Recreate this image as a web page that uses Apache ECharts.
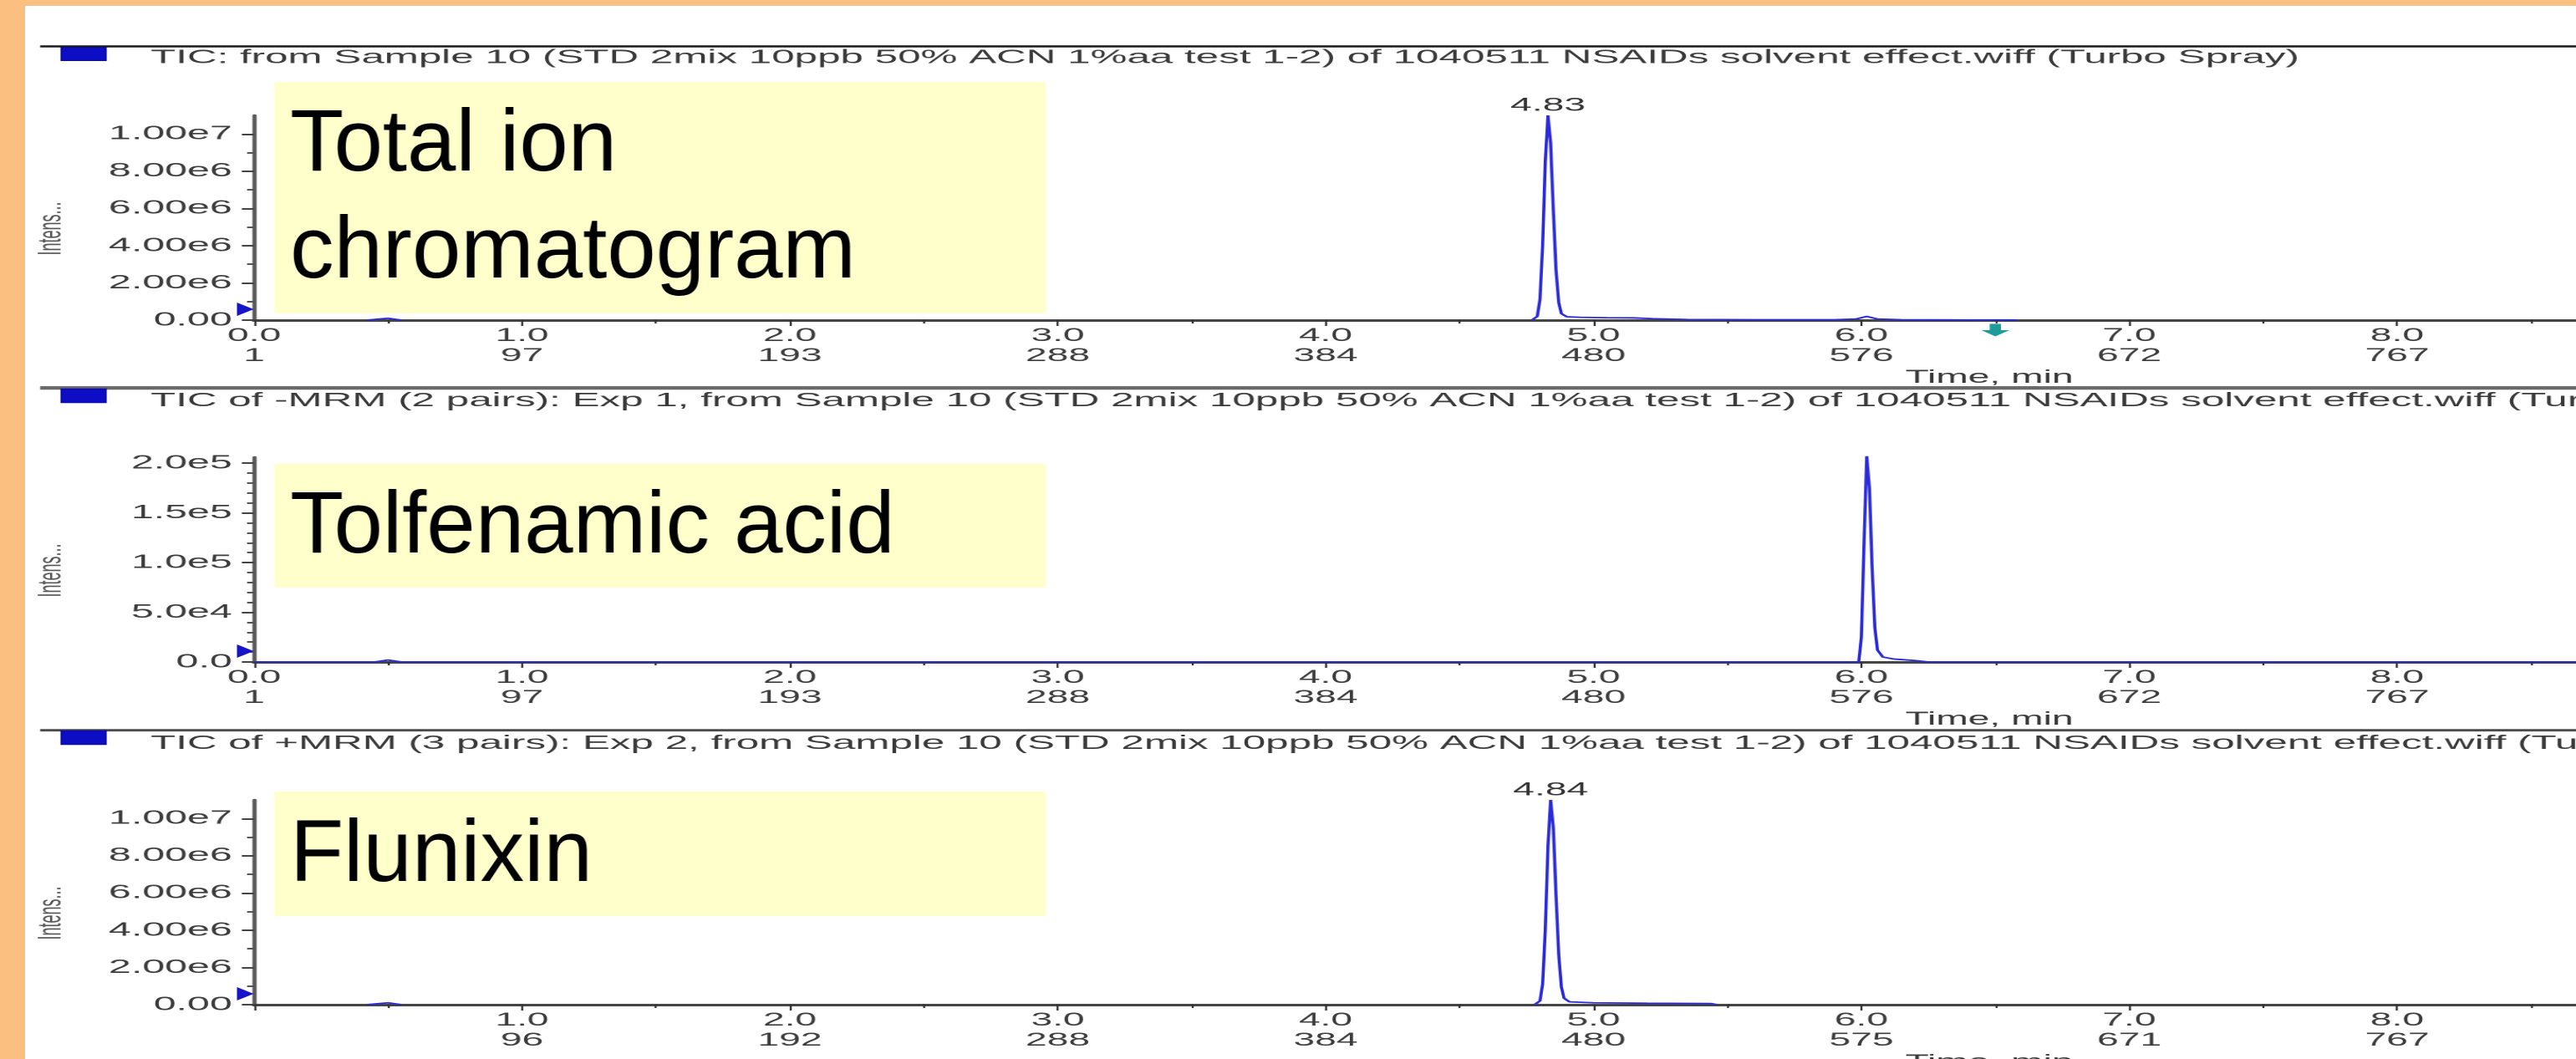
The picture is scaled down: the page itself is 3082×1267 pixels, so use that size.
<!DOCTYPE html>
<html>
<head>
<meta charset="utf-8">
<script src="https://cdn.jsdelivr.net/npm/echarts@6/dist/echarts.min.js"></script>
<style>
html, body { margin: 0; padding: 0; width: 3082px; height: 1267px; overflow: hidden; background: #FBBF80; }
#paper { position: absolute; left: 30px; top: 7px; right: 0; bottom: 0; background: #ffffff; }
#chart { position: absolute; left: 0; top: 0; width: 1468px; height: 1267px; transform: scaleX(2.1); transform-origin: 0 0; }
</style>
</head>
<body>
<div id="paper"></div>
<div id="chart"></div>
<script>
// ---------------- data ----------------
const panelTitles = [
  'TIC: from Sample 10 (STD 2mix 10ppb 50% ACN 1%aa test 1-2) of 1040511 NSAIDs solvent effect.wiff (Turbo Spray)',
  'TIC of -MRM (2 pairs): Exp 1, from Sample 10 (STD 2mix 10ppb 50% ACN 1%aa test 1-2) of 1040511 NSAIDs solvent effect.wiff (Turbo Spray)',
  'TIC of +MRM (3 pairs): Exp 2, from Sample 10 (STD 2mix 10ppb 50% ACN 1%aa test 1-2) of 1040511 NSAIDs solvent effect.wiff (Turbo Spray)'
];
const compoundNames = ['Total ion\nchromatogram', 'Tolfenamic acid', 'Flunixin'];

// Total ion chromatogram (time, min / intensity, cps); null = no trace drawn
const ticTime  = [0.42, 0.50, 0.55, 0.56, 4.77, 4.79, 4.80, 4.81, 4.82, 4.83, 4.84, 4.85, 4.86, 4.87, 4.88, 4.90, 4.95, 5.05, 5.15, 5.22, 5.35, 5.60, 5.90, 5.98, 6.02, 6.06, 6.15, 6.40, 6.58];
const ticValue = [0, 1.0e5, 0, null, 0, 2.0e5, 1.1e6, 4.0e6, 8.5e6, 1.10e7, 9.5e6, 5.9e6, 2.7e6, 9.5e5, 3.5e5, 1.8e5, 1.5e5, 1.3e5, 1.2e5, 8.0e4, 3.0e4, 2.0e4, 2.0e4, 6.0e4, 2.0e5, 6.0e4, 2.0e4, 1.0e4, 1.0e4];

// Tolfenamic acid (-MRM)
const tolTime  = [0, 0.45, 0.50, 0.55, 5.99, 6.00, 6.01, 6.02, 6.03, 6.04, 6.05, 6.06, 6.08, 6.12, 6.20, 6.25, 9.0];
const tolValue = [0, 0, 2.0e3, 0, 0, 2.5e4, 1.2e5, 2.07e5, 1.75e5, 9.5e4, 3.5e4, 1.2e4, 5.0e3, 3.0e3, 1.5e3, 0, 0];

// Flunixin (+MRM)
const fluTime  = [0.42, 0.50, 0.55, 0.56, 4.78, 4.80, 4.81, 4.82, 4.83, 4.84, 4.85, 4.86, 4.87, 4.88, 4.89, 4.91, 5.00, 5.20, 5.44, 5.46];
const fluValue = [0, 1.0e5, 0, null, 0, 2.0e5, 1.1e6, 4.0e6, 8.5e6, 1.10e7, 9.5e6, 5.9e6, 2.7e6, 9.5e5, 3.5e5, 1.5e5, 1.0e5, 8.0e4, 6.0e4, 0];

// axis ticks
const xMax = 9;
const yTicksTIC = [0, 2e6, 4e6, 6e6, 8e6, 1e7];
const yTicksTol = [0, 5e4, 1e5, 1.5e5, 2e5];
const yTicksFlu = [0, 2e6, 4e6, 6e6, 8e6, 1e7];
const yMaxes    = [1.1e7, 2.06e5, 1.1e7];
// scan numbers printed under each minute tick (index = minute)
const scanTIC = ['1', '97', '193', '288', '384', '480', '576', '672', '767'];
const scanTol = ['1', '97', '193', '288', '384', '480', '576', '672', '767'];
const scanFlu = [null, '96', '192', '288', '384', '480', '575', '671', '767'];
const cursorTime = 6.5;

// ---------------- layout ----------------
const FONT = '"Liberation Sans", Arial, Helvetica, sans-serif';
const S = 2.1;                 // horizontal stretch of the instrument screenshot
const CW = 1468;               // chart width before stretching
const fx = x => x / S;         // page px -> chart px (layout only)
const gridLeft = fx(304);
const pxPerMin = fx(320.5);
const gridRight = CW - gridLeft - xMax * pxPerMin;
const gridTops = [138, 547, 957];
const gridH = 245;

const toPairs = (ts, vs) => ts.map((t, k) => [t, vs[k] === null ? '-' : vs[k]]);
function apex(ts, vs) {
  let k = 0;
  vs.forEach((v, i) => { if (v !== null && v > vs[k]) k = i; });
  return [ts[k], vs[k]];
}
const expFmt = (digits, ticks) => v => {
  if (!ticks.some(t => Math.abs(t - v) < 1e-6 * (Math.abs(t) + 1))) return '';
  return v === 0 ? (0).toFixed(digits) : v.toExponential(digits).replace('+', '');
};

function xAxisCfg(i, scans) {
  const nameCenter = fx(2380);
  const mid = gridLeft + (xMax * pxPerMin) / 2;
  return {
    type: 'value', gridIndex: i, min: 0, max: xMax, interval: 1,
    name: 'Time, min', nameLocation: 'middle', nameGap: 58,
    nameTextStyle: { fontSize: 22, color: '#383838', fontFamily: FONT, padding: [0, 0, 0, 2 * (nameCenter - mid)] },
    axisLine: { show: true, lineStyle: { color: '#454545', width: 3 } },
    axisTick: { show: true, length: 7, lineStyle: { color: '#333', width: 1.2 } },
    minorTick: { show: true, splitNumber: 2, length: 4, lineStyle: { color: '#333', width: 1.2 } },
    axisLabel: {
      margin: 7, fontSize: 22, lineHeight: 24, color: '#3c3c3c', fontFamily: FONT,
      formatter: v => {
        const s = scans[Math.round(v)];
        if (s == null) return '';
        return v.toFixed(1) + '\n' + s;
      }
    },
    splitLine: { show: false }
  };
}
function yAxisCfg(i, ticks, max, digits, minorSplit) {
  return {
    type: 'value', gridIndex: i, min: 0, max: max, interval: ticks[1] - ticks[0],
    name: 'Intens...', nameLocation: 'middle', nameRotate: 90, nameGap: 106,
    nameTextStyle: { fontSize: 18, color: '#555', fontFamily: FONT, padding: [0, 26, 0, 0] },
    axisLine: { show: true, lineStyle: { color: '#5a5a5a', width: 2.4 } },
    axisTick: { show: true, length: 7, customValues: ticks, lineStyle: { color: '#444', width: 2 } },
    minorTick: { show: true, splitNumber: minorSplit, length: 4, lineStyle: { color: '#555', width: 2 } },
    axisLabel: { customValues: ticks, margin: 12.5, fontSize: 23, color: '#3c3c3c', fontFamily: FONT, formatter: expFmt(digits, ticks) },
    splitLine: { show: false }
  };
}

const LINE = '#2a2ad8';
function seriesCfg(i, ts, vs, extraMarks) {
  const pk = apex(ts, vs);
  return {
    type: 'line', xAxisIndex: i, yAxisIndex: i, data: toPairs(ts, vs),
    showSymbol: false, connectNulls: false, clip: false,
    lineStyle: { color: LINE, width: 1.8 }, itemStyle: { color: LINE },
    z: 3,
    markPoint: {
      silent: true,
      data: [
        { coord: pk, symbol: 'circle', symbolSize: 1, itemStyle: { color: 'rgba(0,0,0,0)' },
          label: { show: true, position: 'top', distance: 0, formatter: () => pk[0].toFixed(2),
                   fontSize: 22, color: '#333', fontFamily: FONT } },
        { coord: [0, 0], symbol: 'triangle', symbolSize: [16, 9.5], symbolRotate: -90, symbolOffset: [-5, -13],
          itemStyle: { color: '#1414c8' }, label: { show: false } }
      ].concat(extraMarks || [])
    }
  };
}

const cursorMark = {
  coord: [cursorTime, 0], symbol: 'path://M3,0 L7,0 L7,5 L10,5 L5,10 L0,5 L3,5 Z',
  symbolSize: [16, 15], symbolOffset: [0, 12], itemStyle: { color: '#1e9c9c' }, label: { show: false }
};

const titleTops = [57, 467.5, 877.5];
const graphic = [];
// pane frame lines
[[54.3, 2.4, '#1a1a1a'], [462, 4.2, '#6a6a6a'], [872.3, 2.8, '#4a4a4a']].forEach(([y, h, c]) => {
  graphic.push({ type: 'rect', shape: { x: fx(48), y: y, width: CW, height: h }, style: { fill: c }, z: 1 });
});
// blue legend keys
[[56.7, 16], [465, 17], [874, 17]].forEach(([y, h]) => {
  graphic.push({ type: 'rect', shape: { x: fx(73), y: y, width: fx(54), height: h }, style: { fill: '#0d0dc4', stroke: '#05058a', lineWidth: 0.6 }, z: 1 });
});
// yellow compound boxes + labels
const boxes = [[98, 277], [555, 148], [947, 149]];
boxes.forEach(([y, h]) => {
  graphic.push({ type: 'rect', shape: { x: fx(328), y: y, width: fx(923), height: h }, style: { fill: '#FFFFCC' }, z: 1 });
});
const BIG = 105;
graphic.push({ type: 'text', x: fx(347), y: 111, scaleX: 1 / S, z: 2,
  style: { text: compoundNames[0], fontSize: BIG, lineHeight: 128, fontFamily: FONT, fill: '#000', align: 'left', verticalAlign: 'top' } });
graphic.push({ type: 'text', x: fx(347), y: 632, scaleX: 1 / S, z: 2,
  style: { text: compoundNames[1], fontSize: BIG, fontFamily: FONT, fill: '#000', align: 'left', verticalAlign: 'middle' } });
graphic.push({ type: 'text', x: fx(347), y: 1025, scaleX: 1 / S, z: 2,
  style: { text: compoundNames[2], fontSize: BIG, fontFamily: FONT, fill: '#000', align: 'left', verticalAlign: 'middle' } });

const option = {
  animation: false,
  backgroundColor: 'transparent',
  title: panelTitles.map((t, i) => ({
    text: t, left: fx(180), top: titleTops[i], padding: 0,
    textStyle: { fontSize: 23.5, fontWeight: 'normal', color: '#3a3a3a', fontFamily: FONT }
  })),
  grid: gridTops.map(top => ({ left: gridLeft, right: gridRight, top: top, height: gridH, containLabel: false, outerBoundsMode: 'none' })),
  xAxis: [xAxisCfg(0, scanTIC), xAxisCfg(1, scanTol), xAxisCfg(2, scanFlu)],
  yAxis: [
    yAxisCfg(0, yTicksTIC, yMaxes[0], 2, 2),
    yAxisCfg(1, yTicksTol, yMaxes[1], 1, 5),
    yAxisCfg(2, yTicksFlu, yMaxes[2], 2, 2)
  ],
  series: [
    seriesCfg(0, ticTime, ticValue, [cursorMark]),
    seriesCfg(1, tolTime, tolValue),
    seriesCfg(2, fluTime, fluValue)
  ],
  graphic: graphic
};

const chart = echarts.init(document.getElementById('chart'), null, { renderer: 'canvas', devicePixelRatio: 2 });
chart.setOption(option);
</script>
</body>
</html>
